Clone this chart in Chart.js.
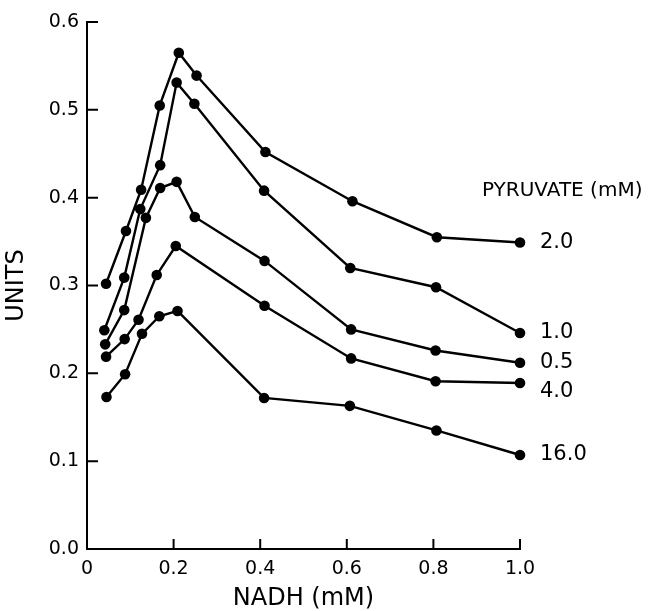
<!DOCTYPE html>
<html>
<head>
<meta charset="utf-8">
<script src="https://cdn.jsdelivr.net/npm/chart.js@4/dist/chart.umd.min.js"></script>
<style>
  html, body { margin: 0; padding: 0; background: #fff; }
  canvas { display: block; }
</style>
</head>
<body>
<canvas id="nadhChart" width="654" height="611"></canvas>
<script>
// pyruvate concentrations (mM), one curve each
const seriesNames = ["2.0", "1.0", "0.5", "4.0", "16.0"];

// NADH (mM) and activity (units)
const nadh20 = [0.044, 0.090, 0.125, 0.168, 0.212, 0.253, 0.412, 0.613, 0.808, 1.0];
const units20 = [0.302, 0.362, 0.409, 0.505, 0.565, 0.539, 0.452, 0.396, 0.355, 0.349];

const nadh10 = [0.040, 0.086, 0.123, 0.169, 0.207, 0.248, 0.409, 0.608, 0.806, 1.0];
const units10 = [0.249, 0.309, 0.387, 0.437, 0.531, 0.507, 0.408, 0.320, 0.298, 0.246];

const nadh05 = [0.042, 0.086, 0.136, 0.169, 0.207, 0.249, 0.410, 0.610, 0.805, 1.0];
const units05 = [0.233, 0.272, 0.377, 0.411, 0.418, 0.378, 0.328, 0.250, 0.226, 0.212];

const nadh40 = [0.044, 0.087, 0.119, 0.161, 0.205, 0.410, 0.610, 0.805, 1.0];
const units40 = [0.219, 0.239, 0.261, 0.312, 0.345, 0.277, 0.217, 0.191, 0.189];

const nadh160 = [0.045, 0.088, 0.127, 0.167, 0.209, 0.409, 0.607, 0.807, 1.0];
const units160 = [0.173, 0.199, 0.245, 0.265, 0.271, 0.172, 0.163, 0.135, 0.107];

const xTicks = [0, 0.2, 0.4, 0.6, 0.8, 1.0];
const yTicks = [0, 0.1, 0.2, 0.3, 0.4, 0.5, 0.6];

const xSets = [nadh20, nadh10, nadh05, nadh40, nadh160];
const ySets = [units20, units10, units05, units40, units160];

// small vertical nudge for the end labels so 0.5 and 4.0 don't collide
const labelNudge = { "4.0": 9 };

const FONT = "'DejaVu Sans', sans-serif";
Chart.defaults.font.family = FONT;
Chart.defaults.color = "#000";

const toPoints = (xs, ys) => xs.map((x, i) => ({ x: x, y: ys[i] }));

const datasets = seriesNames.map((name, i) => ({
  label: name,
  data: toPoints(xSets[i], ySets[i]),
  showLine: true,
  borderColor: "#000",
  borderWidth: 2.4,
  backgroundColor: "#000",
  pointRadius: 5.3,
  pointBorderWidth: 0,
  pointBackgroundColor: "#000",
  clip: false,
}));

// ticks in the original point inwards, so draw them by hand
const inwardTicks = {
  id: "inwardTicks",
  afterDraw(chart) {
    const { ctx } = chart;
    const xs = chart.scales.x;
    const ys = chart.scales.y;
    ctx.save();
    ctx.strokeStyle = "#000";
    ctx.lineWidth = 2;
    ctx.beginPath();
    xTicks.forEach((v) => {
      if (v === 0) return;
      const px = xs.getPixelForValue(v);
      ctx.moveTo(px, ys.bottom);
      ctx.lineTo(px, ys.bottom - 10);
    });
    yTicks.forEach((v) => {
      if (v === 0) return;
      const py = ys.getPixelForValue(v);
      ctx.moveTo(xs.left, py);
      ctx.lineTo(xs.left + 11, py);
    });
    ctx.stroke();
    ctx.restore();
  },
};

// pyruvate labels at the end of each curve + heading
const endLabels = {
  id: "endLabels",
  afterDatasetsDraw(chart) {
    const { ctx } = chart;
    const xs = chart.scales.x;
    const ys = chart.scales.y;
    ctx.save();
    ctx.fillStyle = "#000";
    ctx.textBaseline = "middle";
    ctx.textAlign = "left";
    ctx.font = "21px " + FONT;
    chart.data.datasets.forEach((ds, i) => {
      const meta = chart.getDatasetMeta(i);
      const last = meta.data[meta.data.length - 1];
      const nudge = labelNudge[ds.label] || 0;
      ctx.fillText(ds.label, last.x + 20, last.y + nudge);
    });
    ctx.font = "20px " + FONT;
    ctx.fillText("PYRUVATE (mM)", xs.right - 38, ys.getPixelForValue(0.408));
    ctx.restore();
  },
};

new Chart(document.getElementById("nadhChart"), {
  type: "scatter",
  data: { datasets: datasets },
  options: {
    responsive: false,
    animation: false,
    devicePixelRatio: 1,
    layout: { padding: { left: 0, right: 134, top: 22, bottom: 0 } },
    plugins: {
      legend: { display: false },
      tooltip: { enabled: false },
    },
    scales: {
      x: {
        type: "linear",
        min: 0,
        max: 1,
        afterFit: (s) => { s.height = 62; },
        afterBuildTicks: (s) => { s.ticks = xTicks.map((v) => ({ value: v })); },
        grid: { display: false, drawTicks: false },
        border: { display: true, color: "#000", width: 2 },
        ticks: {
          padding: 9,
          font: { size: 19 },
          maxRotation: 0,
          callback: (v) => (v === 0 ? "0" : v.toFixed(1)),
        },
        title: {
          display: true,
          text: "NADH (mM)",
          font: { size: 24, lineHeight: 1 },
          padding: { top: 0, bottom: 0 },
        },
      },
      y: {
        type: "linear",
        min: 0,
        max: 0.6,
        afterFit: (s) => { s.width = 87; },
        afterBuildTicks: (s) => { s.ticks = yTicks.map((v) => ({ value: v })); },
        grid: { display: false, drawTicks: false },
        border: { display: true, color: "#000", width: 2 },
        ticks: {
          padding: 8,
          font: { size: 19 },
          callback: (v) => v.toFixed(1),
        },
        title: {
          display: true,
          text: "UNITS",
          font: { size: 24, lineHeight: 1 },
          padding: { top: 5, bottom: 0 },
        },
      },
    },
  },
  plugins: [inwardTicks, endLabels],
});
</script>
</body>
</html>
